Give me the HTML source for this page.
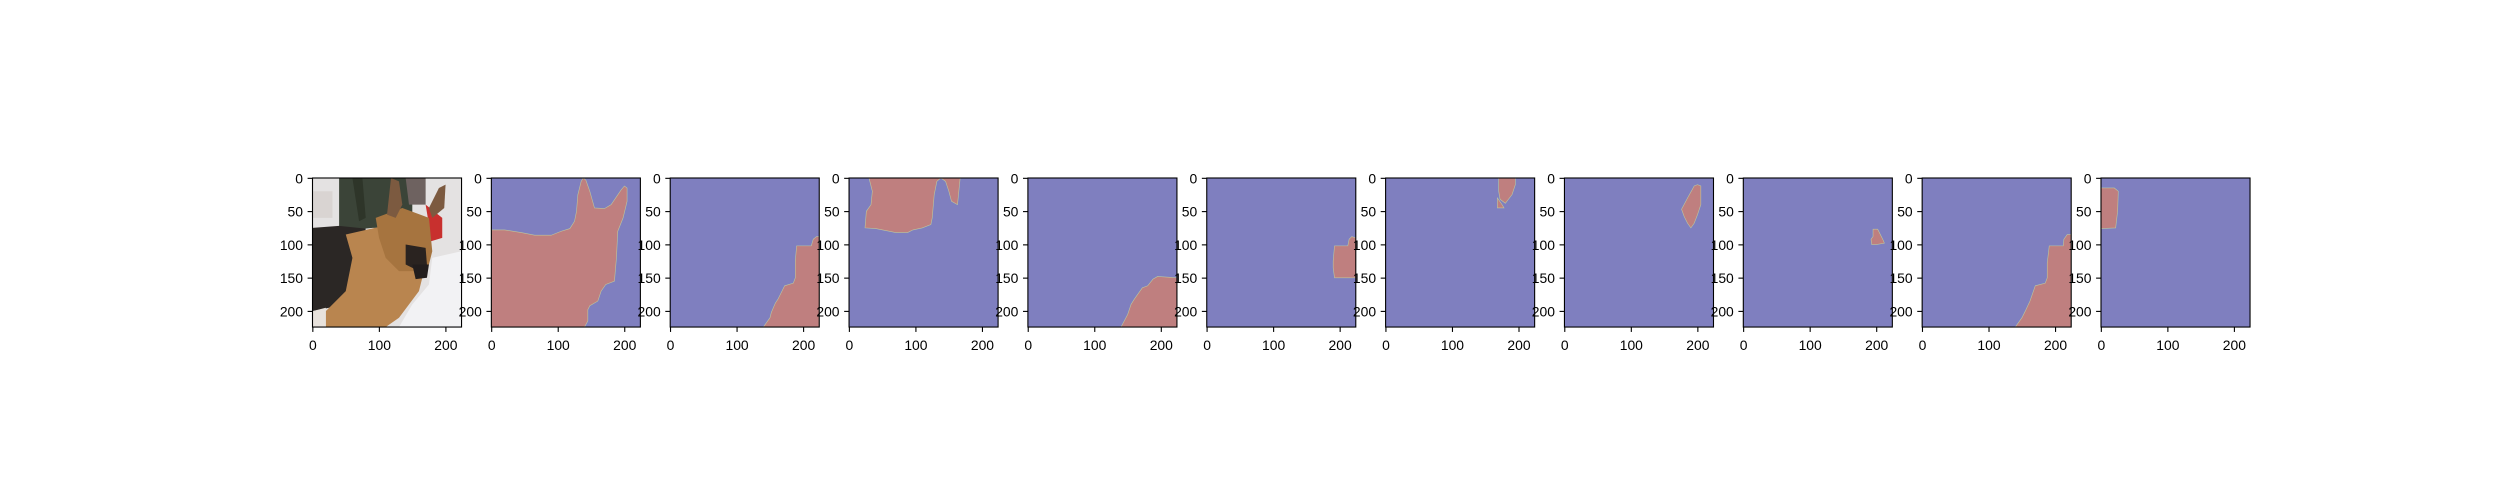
<!DOCTYPE html>
<html><head><meta charset="utf-8"><style>
html,body{margin:0;padding:0;background:#fff;}
#fig{position:relative;width:2500px;height:500px;overflow:hidden;}
svg text{font-family:"Liberation Sans","DejaVu Sans",sans-serif;font-size:13.9px;fill:#000;}
</style></head><body>
<div id="fig">
<svg id="svg" width="2500" height="500" xmlns="http://www.w3.org/2000/svg"></svg>
</div>
<script>
const xTicks = [0, 100, 200];
const yTicks = [0, 50, 100, 150, 200];
const imgSize = 224;
// mask polygons in image pixel coordinates [x, y]
const mask1 = [[[0,78],[20,78],[45,82],[65,86],[90,86],[105,80],[118,76],[125,65],[128,50],[130,25],[135,5],[138,0],[142,3],[148,20],[155,45],[170,46],[180,40],[195,18],[200,12],[204,15],[204,35],[198,60],[190,80],[188,120],[185,155],[172,160],[165,170],[160,185],[148,192],[145,198],[145,215],[140,224],[0,224]]];
const mask2 = [[[140,224],[150,210],[152,202],[158,188],[162,182],[172,162],[185,158],[188,150],[188,125],[190,102],[212,102],[215,92],[220,88],[224,88],[224,224]]];
const mask3 = [[[30,0],[35,20],[33,40],[26,50],[24,75],[40,76],[60,80],[70,82],[88,82],[96,78],[110,75],[123,70],[125,60],[128,25],[132,5],[138,0],[145,5],[150,20],[154,35],[163,40],[165,20],[167,0]]];
const mask4 = [[[140,224],[150,205],[155,190],[160,182],[172,165],[180,162],[188,152],[195,148],[224,150],[224,224]]];
const mask5 = [[[192,150],[190,135],[190,125],[192,102],[212,102],[214,92],[218,88],[224,90],[224,150]]];
const mask6 = [[[170,0],[195,0],[195,10],[190,25],[180,38],[172,32],[170,20]],[[168,30],[175,40],[178,45],[168,45]]];
const mask7 = [[[176,47],[185,30],[195,12],[200,10],[205,12],[205,40],[200,55],[195,68],[190,75],[185,68],[180,58]]];
const mask8 = [[[193,100],[192,92],[195,88],[195,77],[202,77],[206,85],[210,93],[212,98],[200,100]]];
const mask9 = [[[140,224],[150,210],[155,200],[162,185],[170,162],[185,158],[188,150],[188,128],[191,102],[212,102],[213,92],[218,85],[224,85],[224,224]]];
const mask10 = [[[0,15],[20,15],[26,20],[25,50],[22,75],[0,76]]];
const masks = [mask1,mask2,mask3,mask4,mask5,mask6,mask7,mask8,mask9,mask10];

const NS = "http://www.w3.org/2000/svg";
const svg = document.getElementById('svg');
const L0 = 312.5, W = 149.04, STEP = 178.85, TOP = 178, H = 149.04;
function mk(tag, attrs, parent){const e=document.createElementNS(NS,tag);for(const k in attrs)e.setAttribute(k,attrs[k]);(parent||svg).appendChild(e);return e;}
function sx(v,left){return left + (v+0.5)/imgSize*W;}
function sy(v){return TOP + (v+0.5)/imgSize*H;}
function poly(pts,left){return pts.map(p=>sx(p[0]-0.5,left).toFixed(2)+','+sy(p[1]-0.5).toFixed(2)).join(' ');}

function drawPhoto(g,left){
  const P=(pts,fill)=>{const e=mk('polygon',{points:poly(pts,left),fill:fill},g);};
  P([[0,0],[224,0],[224,224],[0,224]],'#e4e2e2');
  P([[40,0],[150,0],[150,70],[130,75],[90,75],[40,80]],'#3b4438');
  P([[60,0],[75,0],[80,60],[70,65]],'#2e3529');
  P([[0,20],[30,20],[30,60],[0,60]],'#d9d4d2');
  P([[170,40],[195,60],[195,90],[178,95],[175,70]],'#c8302e');
  P([[140,0],[170,0],[170,40],[145,40]],'#6e6260');
  P([[0,75],[40,72],[80,76],[70,140],[50,190],[0,200]],'#2b2725');
  P([[50,85],[115,70],[140,90],[170,130],[160,170],[130,210],[110,224],[20,224],[20,200],[50,170],[60,120]],'#b9854f');
  P([[95,60],[135,45],[175,60],[180,110],[175,130],[160,140],[130,140],[110,120],[100,90]],'#a6743f');
  P([[118,0],[130,5],[135,40],[125,60],[112,55]],'#7c5a40');
  P([[175,45],[190,15],[200,10],[198,45],[180,60]],'#7c5a40');
  P([[140,100],[170,105],[172,130],[160,140],[140,130]],'#2a2320');
  P([[150,130],[175,130],[172,150],[155,152]],'#221d1d');
  P([[180,120],[224,110],[224,224],[130,224],[150,190],[175,160]],'#f2f2f4');
  P([[0,200],[20,195],[20,224],[0,224]],'#e8e2dc');
}

masks.concat([null]).forEach(()=>{});
for(let i=0;i<11;i++){
  const left = L0 + i*STEP;
  const g = mk('g',{});
  
  
  const clipId='clip'+i;
  const cp=mk('clipPath',{id:clipId},g);
  mk('rect',{x:left,y:TOP,width:W,height:H},cp);
  const inner=mk('g',{'clip-path':'url(#'+clipId+')'},g);
  if(i===0){ drawPhoto(inner,left); }
  else{
    const bg=mk('rect',{x:left,y:TOP,width:W,height:H,fill:'#7f7fbf'},inner);
    
    
    masks[i-1].forEach(pts=>{
      const p=mk('polygon',{points:poly(pts,left),fill:'#bf7f7f',stroke:'#c8e6a0','stroke-width':0.6,'stroke-opacity':0.7},inner);
      
      
    });
  }
  const fr=mk('rect',{x:left,y:TOP,width:W,height:H,fill:'none',stroke:'#000','stroke-width':1.1},g);
  
  
  xTicks.forEach(t=>{
    const x=sx(t,left);
    const ln=mk('line',{x1:x,x2:x,y1:TOP+H,y2:TOP+H+4.9,stroke:'#000','stroke-width':1.1},g);
    
    
    const tx=mk('text',{x:x,y:TOP+H+23,'text-anchor':'middle'},g);
    tx.textContent=t;
    
    
  });
  yTicks.forEach(t=>{
    const y=sy(t);
    const ln=mk('line',{x1:left-4.9,x2:left,y1:y,y2:y,stroke:'#000','stroke-width':1.1},g);
    
    
    const tx=mk('text',{x:left-9.5,y:y+5,'text-anchor':'end'},g);
    tx.textContent=t;
    
    
  });
}
</script>
</body></html>
